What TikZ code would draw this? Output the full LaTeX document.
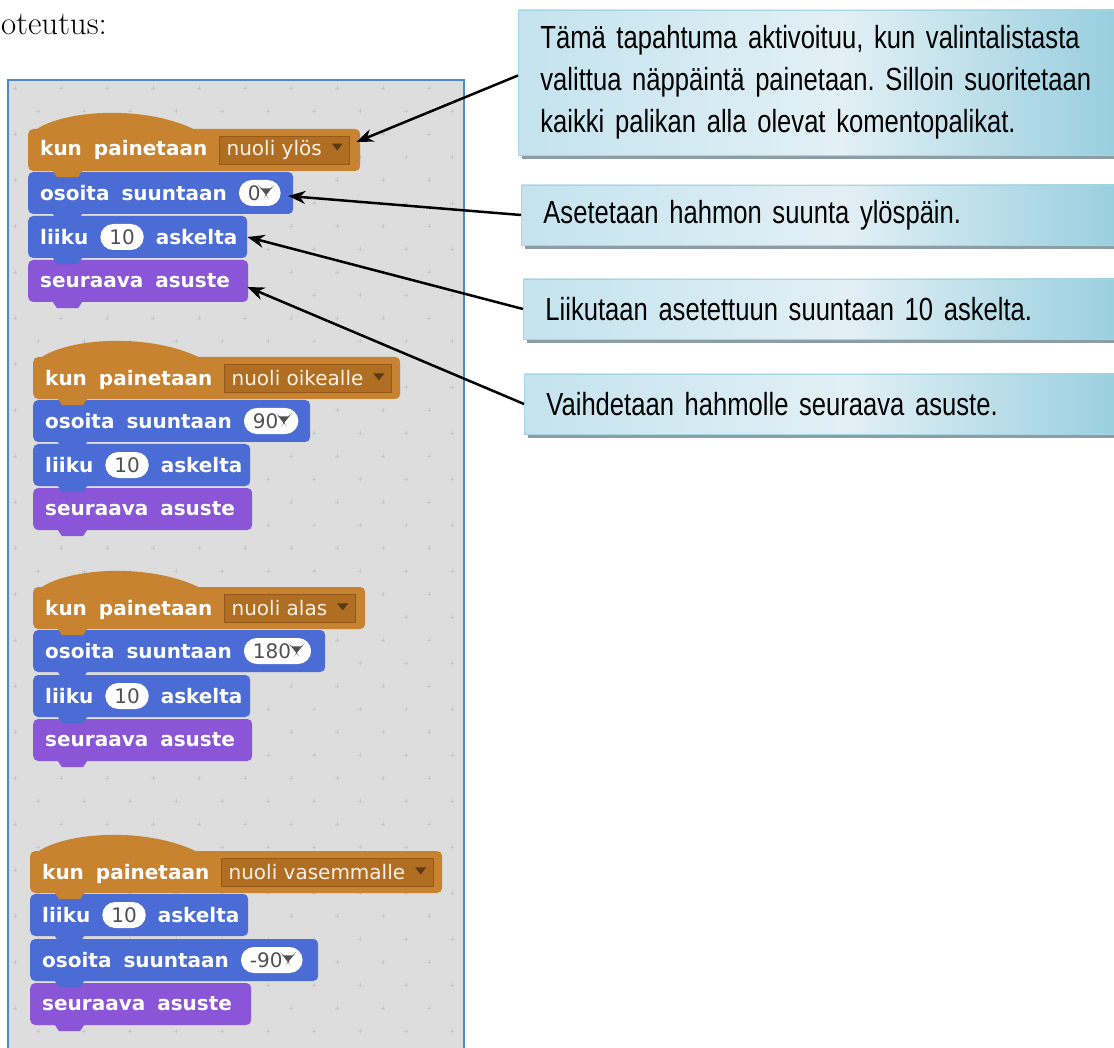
\documentclass[tikz,border=0pt]{standalone}
\usepackage{fontspec}
\usetikzlibrary{arrows.meta, shadows}

\newfontfamily\blockfont{DejaVu Sans}
\newfontfamily\notefont[FakeStretch=0.80]{Liberation Sans}

\definecolor{event}{HTML}{C88330}
\definecolor{eventdark}{HTML}{B06E22}
\definecolor{eventline}{HTML}{94591A}
\definecolor{tridark}{HTML}{5B3A14}
\definecolor{motion}{HTML}{4A6CD4}
\definecolor{looks}{HTML}{8A55D7}
\definecolor{panel}{HTML}{DCDDDC}
\definecolor{panelline}{HTML}{4F88C6}
\definecolor{noteL}{HTML}{C4E3EE}
\definecolor{noteM}{HTML}{E2F0F5}
\definecolor{noteR}{HTML}{8CC9DB}
\definecolor{noteline}{HTML}{A6D6E5}
\definecolor{noteshadow}{HTML}{8D9DA6}
\definecolor{numtext}{HTML}{505050}

\tikzset{
    numin/.style={rectangle, rounded corners=13pt, fill=white, text=numtext, inner xsep=9pt, inner ysep=0pt, minimum height=26pt, font={\blockfont\mdseries\fontsize{20}{24}\selectfont\spaceskip=0pt\relax}},
    menuin/.style={rectangle, sharp corners, fill=eventdark, draw=eventline, line width=0.8pt, text=white!88!event, inner xsep=7pt, inner ysep=0pt, minimum height=28pt, font={\blockfont\mdseries\fontsize{20}{24}\selectfont\spaceskip=0pt\relax}}
}
% small drop-down triangle and the inline input fields
\newcommand{\tri}[1]{\tikz[baseline=0pt]\fill[#1] (0pt,12pt) -- (11pt,12pt) -- (5.5pt,5pt) -- cycle;}
\newcommand{\numin}[1]{\tikz[baseline=0pt]\node[numin, anchor=base] {#1};}
\newcommand{\menuin}[1]{\tikz[baseline=0pt]\node[menuin, anchor=base] {#1};}

\begin{document}
\begin{tikzpicture}[x=1pt, y=-1pt,
        body/.style={rectangle, rounded corners=5pt, fill=#1, minimum height=42pt, inner sep=0pt, anchor=west},
        lbl/.style={anchor=west, inner sep=0pt, text=white, font={\blockfont\bfseries\fontsize{20}{24}\selectfont\spaceskip=0.6em\relax}},
        note/.style={rectangle, anchor=west, draw=noteline, line width=0.8pt, left color=noteL, right color=noteR, middle color=noteM,
            drop shadow={shadow xshift=4pt, shadow yshift=-4pt, fill=noteshadow, opacity=1},
            text width=600pt, align=left, inner xsep=22pt, text=black, font={\notefont\fontsize{32}{42}\selectfont\frenchspacing}},
        arrow/.style={-{Stealth[length=17pt, width=13pt]}, line width=2.5pt}
    ]
    \useasboundingbox (0,0) rectangle (1114,1048);
    \clip (0,0) rectangle (1114,1048);

    \node[anchor=base west, inner sep=0pt, font=\fontsize{33}{40}\selectfont] (title) at (1,35) {oteutus:};

    % script area
    \draw[panelline, line width=1.5pt, fill=panel] (8,80) rectangle (464,1070);
    \foreach \gx in {15,61,...,461}
        \foreach \gy in {88,134,...,1048}
            \draw[panel!90!black, line width=0.7pt] (\gx-2,\gy) -- (\gx+2,\gy) (\gx,\gy-2) -- (\gx,\gy+2)
                (\gx+21,\gy+23) -- (\gx+25,\gy+23) (\gx+23,\gy+21) -- (\gx+23,\gy+25);

    % script 1: up
    \node[body=event, minimum width=332] (hat1) at (28,150) {};
    \fill[event, shift={(hat1.north west)}] (0,8) .. controls (20,-18) and (110,-26) .. (165,0) -- (165,12) -- (0,12) -- cycle;
    \node[lbl] (hat1txt) at ([xshift=12pt]hat1.west) {kun painetaan \menuin{nuoli ylös\hspace{10pt}\tri{tridark}}};
    \node[body=motion, minimum width=265] (dir1) at (28,193) {};
    \node[lbl] (dir1txt) at ([xshift=12pt]dir1.west) {osoita suuntaan \numin{0\tri{numtext}}};
    \node[body=motion, minimum width=219] (move1) at (28,237) {};
    \node[lbl] (move1txt) at ([xshift=12pt]move1.west) {liiku \numin{10} askelta};
    \node[body=looks, minimum width=220] (cost1) at (28,281) {};
    \node[lbl] (cost1txt) at ([xshift=12pt]cost1.west) {seuraava asuste};

    % script 2: right
    \node[body=event, minimum width=367] (hat2) at (33,378) {};
    \fill[event, shift={(hat2.north west)}] (0,8) .. controls (20,-18) and (110,-26) .. (165,0) -- (165,12) -- (0,12) -- cycle;
    \node[lbl] (hat2txt) at ([xshift=12pt]hat2.west) {kun painetaan \menuin{nuoli oikealle\hspace{10pt}\tri{tridark}}};
    \node[body=motion, minimum width=277] (dir2) at (33,421) {};
    \node[lbl] (dir2txt) at ([xshift=12pt]dir2.west) {osoita suuntaan \numin{90\tri{numtext}}};
    \node[body=motion, minimum width=217] (move2) at (33,465) {};
    \node[lbl] (move2txt) at ([xshift=12pt]move2.west) {liiku \numin{10} askelta};
    \node[body=looks, minimum width=219] (cost2) at (33,509) {};
    \node[lbl] (cost2txt) at ([xshift=12pt]cost2.west) {seuraava asuste};

    % script 3: down
    \node[body=event, minimum width=332] (hat3) at (33,608) {};
    \fill[event, shift={(hat3.north west)}] (0,8) .. controls (20,-18) and (110,-26) .. (165,0) -- (165,12) -- (0,12) -- cycle;
    \node[lbl] (hat3txt) at ([xshift=12pt]hat3.west) {kun painetaan \menuin{nuoli alas\hspace{10pt}\tri{tridark}}};
    \node[body=motion, minimum width=292] (dir3) at (33,651) {};
    \node[lbl] (dir3txt) at ([xshift=12pt]dir3.west) {osoita suuntaan \numin{180\tri{numtext}}};
    \node[body=motion, minimum width=217] (move3) at (33,696) {};
    \node[lbl] (move3txt) at ([xshift=12pt]move3.west) {liiku \numin{10} askelta};
    \node[body=looks, minimum width=219] (cost3) at (33,740) {};
    \node[lbl] (cost3txt) at ([xshift=12pt]cost3.west) {seuraava asuste};

    % script 4: left
    \node[body=event, minimum width=412] (hat4) at (30,872) {};
    \fill[event, shift={(hat4.north west)}] (0,8) .. controls (20,-18) and (110,-26) .. (165,0) -- (165,12) -- (0,12) -- cycle;
    \node[lbl] (hat4txt) at ([xshift=12pt]hat4.west) {kun painetaan \menuin{nuoli vasemmalle\hspace{10pt}\tri{tridark}}};
    \node[body=motion, minimum width=218] (move4) at (30,915) {};
    \node[lbl] (move4txt) at ([xshift=12pt]move4.west) {liiku \numin{10} askelta};
    \node[body=motion, minimum width=288] (dir4) at (30,960) {};
    \node[lbl] (dir4txt) at ([xshift=12pt]dir4.west) {osoita suuntaan \numin{-90\tri{numtext}}};
    \node[body=looks, minimum width=221] (cost4) at (30,1004) {};
    \node[lbl] (cost4txt) at ([xshift=12pt]cost4.west) {seuraava asuste};

    % tabs under each block
    \foreach \b/\col in {hat1/event, dir1/motion, move1/motion, cost1/looks,
                         hat2/event, dir2/motion, move2/motion, cost2/looks,
                         hat3/event, dir3/motion, move3/motion, cost3/looks,
                         hat4/event, move4/motion, dir4/motion, cost4/looks}
        \fill[\col] ([xshift=25pt]\b.south west) -- ++(4,6) -- ++(21,0) -- ++(4,-6) -- cycle;

    % notes
    \node[note, minimum height=145pt] (note1) at (518,82.5) {Tämä tapahtuma aktivoituu, kun valintalistasta\\valittua näppäintä painetaan. Silloin suoritetaan\\kaikki palikan alla olevat komentopalikat.};
    \node[note, minimum height=60pt] (note2) at (521,215) {Asetetaan hahmon suunta ylöspäin.};
    \node[note, minimum height=60pt] (note3) at (523,309) {Liikutaan asetettuun suuntaan 10 askelta.};
    \node[note, minimum height=60pt] (note4) at (524,404) {Vaihdetaan hahmolle seuraava asuste.};

    % arrows
    \draw[arrow] ([yshift=7pt]note1.west) -- ([shift={(-4,-8)}]hat1.east);
    \draw[arrow] (note2.west) -- ([shift={(-5,3)}]dir1.east);
    \draw[arrow] (note3.west) -- (move1.east);
    \draw[arrow] (note4.west) -- ([shift={(-1,6)}]cost1.east);
\end{tikzpicture}
\end{document}
